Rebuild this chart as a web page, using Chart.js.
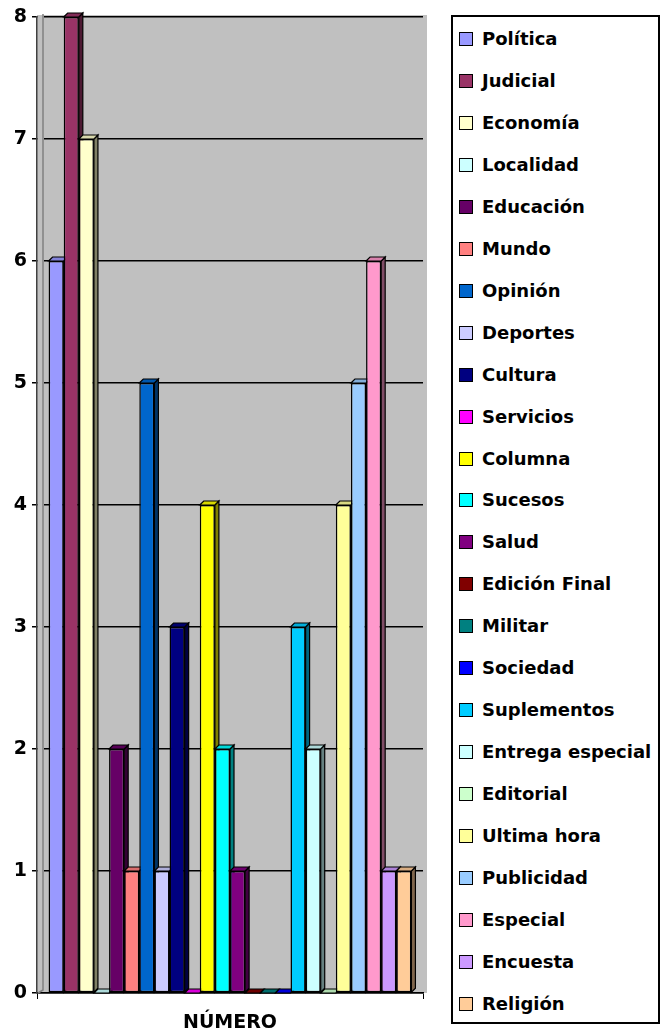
<!DOCTYPE html>
<html>
<head>
<meta charset="utf-8">
<script src="https://cdn.jsdelivr.net/npm/chart.js@4.4.1/dist/chart.umd.min.js"></script>
<style>
  body { margin: 0; background: #fff; }
  #wrap { position: absolute; left: 0; top: 0; width: 430px; height: 1034px; }
  #legend {
    position: absolute; left: 451px; top: 15px; width: 209px; height: 1009px;
    border: 2px solid #000; box-sizing: border-box;
    font-family: "DejaVu Sans", sans-serif; font-weight: bold; font-size: 18px; color: #000;
  }
  .item { position: absolute; left: 0; height: 26px; line-height: 26px; white-space: nowrap; }
  .swatch {
    position: absolute; left: 6px; top: 6px; width: 14px; height: 14px;
    border: 1.5px solid #000; box-sizing: border-box;
  }
  .name { position: absolute; left: 29px; top: 0; }
</style>
</head>
<body>
<div id="wrap"><canvas id="myChart"></canvas></div>
<div id="legend"></div>
<script>
// one category, one bar per section
const categories = ["NÚMERO"];
const seriesNames = [
  "Política", "Judicial", "Economía", "Localidad", "Educación", "Mundo",
  "Opinión", "Deportes", "Cultura", "Servicios", "Columna", "Sucesos",
  "Salud", "Edición Final", "Militar", "Sociedad", "Suplementos",
  "Entrega especial", "Editorial", "Ultima hora", "Publicidad", "Especial",
  "Encuesta", "Religión",
];
const seriesValues = [6, 8, 7, 0, 2, 1, 5, 1, 3, 0, 4, 2, 1, 0, 0, 0, 3, 2, 0, 4, 5, 6, 1, 1];
const seriesColors = [
  "#9999FF", "#993366", "#FFFFCC", "#CCFFFF", "#660066", "#FF8080",
  "#0066CC", "#CCCCFF", "#000080", "#FF00FF", "#FFFF00", "#00FFFF",
  "#800080", "#800000", "#008080", "#0000FF", "#00CCFF", "#CCFFFF",
  "#CCFFCC", "#FFFF99", "#99CCFF", "#FF99CC", "#CC99FF", "#FFCC99",
];
const yTicks = [0, 1, 2, 3, 4, 5, 6, 7, 8];

const depth = 4;
const wallSide = 6;

function shade(hex, f) {
  const n = parseInt(hex.slice(1), 16);
  const r = Math.round(((n >> 16) & 255) * f);
  const g = Math.round(((n >> 8) & 255) * f);
  const b = Math.round((n & 255) * f);
  return `rgb(${r},${g},${b})`;
}

// gray back wall + fake 3d top/side faces behind the bar fronts
const bar3d = {
  id: "bar3d",
  beforeDraw(chart) {
    const { ctx, chartArea: a } = chart;
    ctx.save();
    ctx.fillStyle = "#C0C0C0";
    ctx.fillRect(a.left, a.top - 2, a.right - a.left + depth, a.bottom - a.top + 2);
    ctx.restore();
  },
  beforeDatasetsDraw(chart) {
    const ctx = chart.ctx;
    const a = chart.chartArea;
    ctx.save();
    // left side wall strip
    ctx.fillStyle = "#C0C0C0";
    ctx.fillRect(a.left + 1, a.top - 2, wallSide, a.bottom - a.top + 1);
    ctx.strokeStyle = "#808080";
    ctx.lineWidth = 1.5;
    ctx.beginPath();
    ctx.moveTo(a.left + wallSide, a.top - 3);
    ctx.lineTo(a.left + wallSide, a.bottom - 3);
    ctx.lineTo(a.left + 1, a.bottom);
    ctx.stroke();

    ctx.strokeStyle = "#000";
    ctx.lineWidth = 1.2;
    chart.data.datasets.forEach((ds, i) => {
      const meta = chart.getDatasetMeta(i);
      meta.data.forEach((bar) => {
        const { x, y, base, width } = bar.getProps(["x", "y", "base", "width"], true);
        const l = x - width / 2;
        const r = x + width / 2;
        // side
        ctx.beginPath();
        ctx.moveTo(r, y);
        ctx.lineTo(r + depth, y - depth);
        ctx.lineTo(r + depth, base - depth);
        ctx.lineTo(r, base);
        ctx.closePath();
        ctx.fillStyle = shade(ds.backgroundColor, 0.5);
        ctx.fill();
        ctx.stroke();
        // top
        ctx.beginPath();
        ctx.moveTo(l, y);
        ctx.lineTo(l + depth, y - depth);
        ctx.lineTo(r + depth, y - depth);
        ctx.lineTo(r, y);
        ctx.closePath();
        ctx.fillStyle = shade(ds.backgroundColor, 0.85);
        ctx.fill();
        ctx.stroke();
      });
    });
    ctx.restore();
  },
};

const datasets = seriesNames.map((name, i) => ({
  label: name,
  data: [seriesValues[i]],
  backgroundColor: seriesColors[i],
  borderColor: "#000",
  borderWidth: 1.5,
  borderSkipped: false,
  categoryPercentage: 0.94,
  barPercentage: 1,
}));

const ctx = document.getElementById("myChart").getContext("2d");
const myChart = new Chart(ctx, {
  type: "bar",
  data: { labels: categories, datasets: datasets },
  plugins: [bar3d],
  options: {
    responsive: true,
    maintainAspectRatio: false,
    animation: false,
    layout: { padding: { top: 17, right: 7, left: 0, bottom: 0 } },
    plugins: { legend: { display: false }, tooltip: { enabled: false } },
    scales: {
      x: {
        afterFit: (s) => { s.height = 41; },
        grid: { drawOnChartArea: false, drawTicks: true, tickLength: 6, color: "#000", offset: true },
        border: { display: true, color: "#000", width: 1.5 },
        ticks: {
          color: "#000",
          padding: 13,
          font: { family: "DejaVu Sans", weight: "bold", size: 19 },
        },
      },
      y: {
        min: yTicks[0],
        max: yTicks[yTicks.length - 1],
        afterFit: (s) => { s.width = 37; },
        afterBuildTicks: (s) => { s.ticks = yTicks.map((v) => ({ value: v })); },
        grid: { color: "#000", lineWidth: 1.5, tickLength: 5 },
        border: { display: true, color: "#404040", width: 1.5 },
        ticks: {
          color: "#000",
          padding: 5,
          font: { family: "DejaVu Sans", weight: "bold", size: 19 },
        },
      },
    },
  },
});

// legend box on the right
const legend = document.getElementById("legend");
seriesNames.forEach((name, i) => {
  const item = document.createElement("div");
  item.className = "item";
  item.style.top = (39 + i * 41.95 - 13 - 17) + "px";
  const sw = document.createElement("span");
  sw.className = "swatch";
  sw.style.background = seriesColors[i];
  const label = document.createElement("span");
  label.className = "name";
  label.textContent = name;
  item.appendChild(sw);
  item.appendChild(label);
  legend.appendChild(item);
});
</script>
</body>
</html>
